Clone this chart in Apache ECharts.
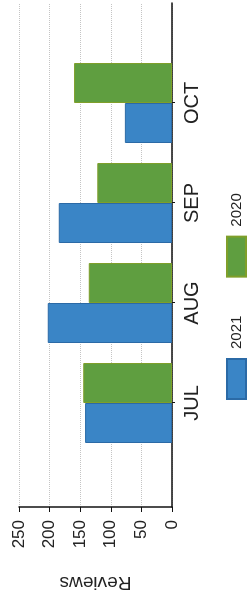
<!DOCTYPE html>
<html>
<head>
<meta charset="utf-8">
<script src="https://cdn.jsdelivr.net/npm/echarts@6/dist/echarts.min.js"></script>
<style>
  html, body { margin: 0; padding: 0; background: #fff; overflow: hidden; }
  #wrap { width: 252px; height: 590px; position: relative; overflow: hidden; }
  /* the chart is drawn upright (590x252) and turned a quarter to the left */
  #chart {
    width: 590px; height: 252px;
    position: absolute; left: 0; top: 0;
    transform-origin: 0 0;
    transform: translateY(590px) rotate(-90deg);
  }
</style>
</head>
<body>
<div id="wrap"><div id="chart"></div></div>
<script>
const meses = ['JUL', 'AUG', 'SEP', 'OCT']
const anos = ['2021', '2020']
const reviews2021 = [142, 203, 185, 77]
const reviews2020 = [145, 136, 122, 160]
const ticksReviews = [0, 50, 100, 150, 200, 250]

const fonte = '"Liberation Sans", Arial, sans-serif'

function pontos(valores){
    return valores.map((v, i) => [i, v])
}

let option = {
    animation: false,
    textStyle: { fontFamily: fonte },
    grid: { left: 83, right: 3, top: 19, bottom: 80, outerBoundsMode: 'none' },
    legend: {
        data: anos,
        left: 185,
        bottom: 0,
        itemWidth: 40,
        itemHeight: 19,
        itemGap: 38,
        icon: 'rect',
        textStyle: { fontSize: 15, color: '#222', fontFamily: fonte, padding: [0, 0, 0, 5] }
    },
    xAxis: {
        type: 'value',
        min: -1.04,
        max: 4,
        splitLine: { show: false },
        axisLine: { show: true, onZero: false, lineStyle: { color: '#111', width: 1.5 } },
        axisTick: { show: true, customValues: [0, 1, 2, 3], length: 3, lineStyle: { color: '#111' } },
        axisLabel: {
            customValues: [0, 1, 2, 3],
            formatter: (v) => meses[Math.round(v)] || '',
            fontSize: 20,
            color: '#222',
            margin: 10,
            fontFamily: fonte
        }
    },
    yAxis: {
        type: 'value',
        min: 0,
        max: 250,
        interval: 50,
        name: 'Reviews',
        nameLocation: 'middle',
        nameGap: 66,
        nameTextStyle: { fontSize: 19, color: '#222', fontFamily: fonte },
        axisLine: { show: true, onZero: false, lineStyle: { color: '#111', width: 1.5 } },
        axisTick: { show: true, length: 5, lineStyle: { color: '#111' } },
        axisLabel: {
            customValues: ticksReviews,
            fontSize: 17,
            color: '#222',
            margin: 13,
            fontFamily: fonte
        },
        splitLine: { show: true, lineStyle: { type: 'dotted', color: '#c4c4c4', width: 1 } }
    },
    series: [
        {
            name: anos[0],
            type: 'bar',
            barWidth: 40,
            barGap: '0%',
            itemStyle: { color: '#3a85c6', borderColor: '#2b6aa6', borderWidth: 1 },
            data: pontos(reviews2021)
        },
        {
            name: anos[1],
            type: 'bar',
            barWidth: 40,
            barGap: '0%',
            itemStyle: { color: '#5f9e40', borderColor: '#7f9f2a', borderWidth: 1 },
            data: pontos(reviews2020)
        }
    ]
}

const chart = echarts.init(document.getElementById('chart'))
chart.setOption(option)
</script>
</body>
</html>
